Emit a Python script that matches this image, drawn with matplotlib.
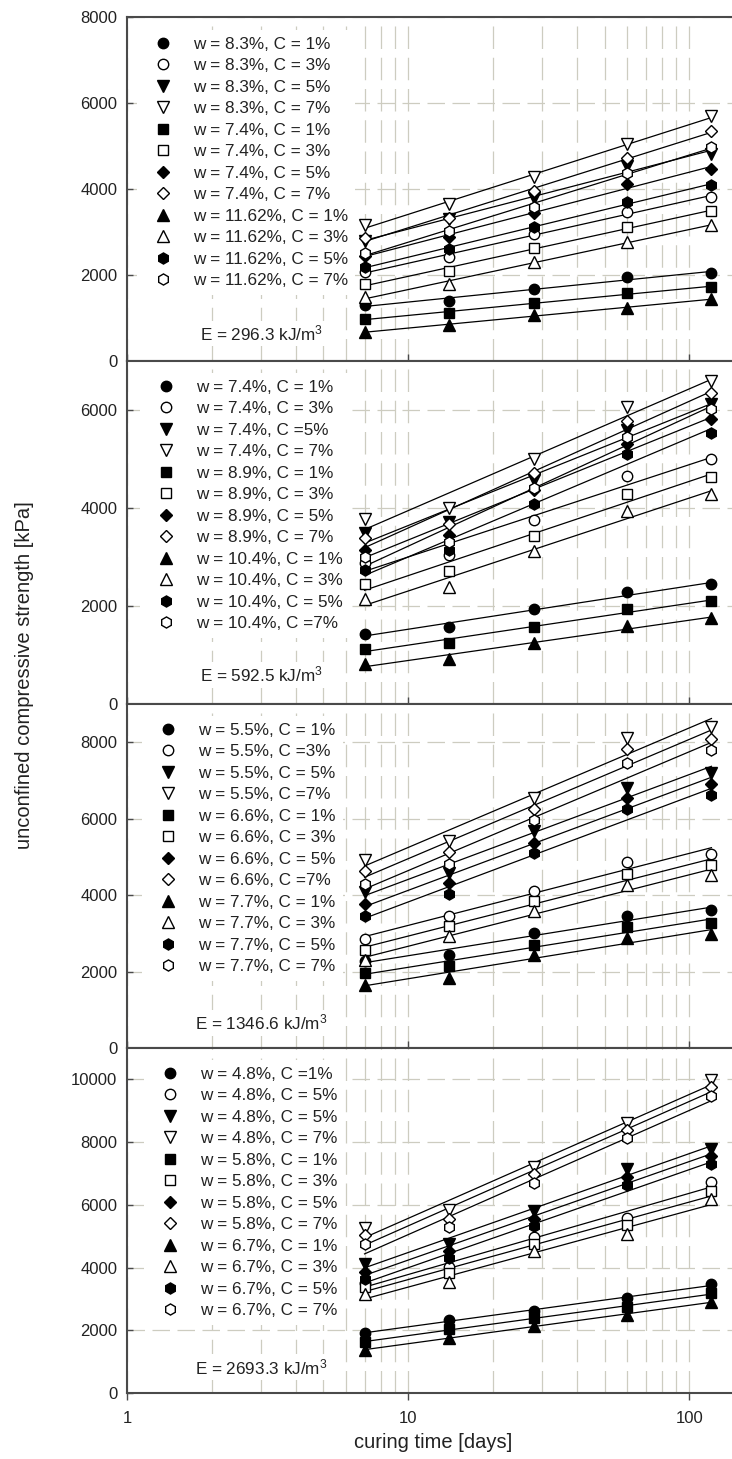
import numpy as np
import matplotlib.pyplot as plt
from matplotlib.ticker import FixedLocator, NullFormatter

plt.rcParams['font.family'] = ['Liberation Sans', 'DejaVu Sans']
plt.rcParams['mathtext.fontset'] = 'custom'
plt.rcParams['mathtext.rm'] = 'Liberation Sans'
plt.rcParams['mathtext.default'] = 'regular'

# curing times (days)
days = [7, 14, 28, 60, 120]

# E = 296.3 kJ/m3
labels_e1 = ["w = 8.3%, C = 1%", "w = 8.3%, C = 3%", "w = 8.3%, C = 5%", "w = 8.3%, C = 7%",
             "w = 7.4%, C = 1%", "w = 7.4%, C = 3%", "w = 7.4%, C = 5%", "w = 7.4%, C = 7%",
             "w = 11.62%, C = 1%", "w = 11.62%, C = 3%", "w = 11.62%, C = 5%", "w = 11.62%, C = 7%"]
ucs_e1 = [[1302, 1395, 1674, 1953, 2047],
          [2070, 2419, 2953, 3465, 3814],
          [2800, 3300, 3791, 4535, 4814],
          [3163, 3651, 4279, 5047, 5698],
          [977, 1116, 1349, 1581, 1721],
          [1790, 2093, 2628, 3116, 3488],
          [2450, 2884, 3442, 4116, 4465],
          [2860, 3326, 3953, 4721, 5349],
          [674, 837, 1070, 1233, 1442],
          [1488, 1790, 2302, 2767, 3163],
          [2186, 2605, 3116, 3698, 4093],
          [2512, 3023, 3581, 4372, 4977]]

# E = 592.5 kJ/m3
labels_e2 = ["w = 7.4%, C = 1%", "w = 7.4%, C = 3%", "w = 7.4%, C =5%", "w = 7.4%, C = 7%",
             "w = 8.9%, C = 1%", "w = 8.9%, C = 3%", "w = 8.9%, C = 5%", "w = 8.9%, C = 7%",
             "w = 10.4%, C = 1%", "w = 10.4%, C = 3%", "w = 10.4%, C = 5%", "w = 10.4%, C =7%"]
ucs_e2 = [[1431, 1568, 1936, 2276, 2447],
          [2877, 3047, 3763, 4648, 4990],
          [3490, 3715, 4581, 5600, 6115],
          [3777, 4001, 5004, 6060, 6591],
          [1118, 1240, 1581, 1936, 2092],
          [2454, 2706, 3422, 4294, 4636],
          [3135, 3456, 4362, 5300, 5808],
          [3388, 3674, 4717, 5773, 6340],
          [818, 920, 1240, 1595, 1752],
          [2140, 2386, 3115, 3947, 4294],
          [2740, 3135, 4090, 5092, 5522],
          [3000, 3299, 4410, 5446, 6026]]

# E = 1346.6 kJ/m3
labels_e3 = ["w = 5.5%, C = 1%", "w = 5.5%, C =3%", "w = 5.5%, C = 5%", "w = 5.5%, C =7%",
             "w = 6.6%, C = 1%", "w = 6.6%, C = 3%", "w = 6.6%, C = 5%", "w = 6.6%, C =7%",
             "w = 7.7%, C = 1%", "w = 7.7%, C = 3%", "w = 7.7%, C = 5%", "w = 7.7%, C = 7%"]
ucs_e3 = [[2280, 2439, 3008, 3445, 3602],
          [2859, 3462, 4100, 4860, 5080],
          [4074, 4582, 5674, 6812, 7205],
          [4931, 5412, 6531, 8123, 8411],
          [1959, 2151, 2702, 3165, 3270],
          [2571, 3182, 3838, 4564, 4783],
          [3777, 4320, 5369, 6531, 6917],
          [4625, 5124, 6243, 7835, 8096],
          [1652, 1844, 2439, 2876, 2982],
          [2290, 2938, 3575, 4276, 4520],
          [3445, 4039, 5089, 6243, 6610],
          [4302, 4826, 5954, 7468, 7790]]

# E = 2693.3 kJ/m3
labels_e4 = ["w = 4.8%, C =1%", "w = 4.8%, C = 5%", "w = 4.8%, C = 5%", "w = 4.8%, C = 7%",
             "w = 5.8%, C = 1%", "w = 5.8%, C = 3%", "w = 5.8%, C = 5%", "w = 5.8%, C = 7%",
             "w = 6.7%, C = 1%", "w = 6.7%, C = 3%", "w = 6.7%, C = 5%", "w = 6.7%, C = 7%"]
ucs_e4 = [[1921, 2325, 2622, 3016, 3472],
          [3500, 4023, 4980, 5595, 6730],
          [4109, 4766, 5806, 7156, 7794],
          [5265, 5829, 7208, 8610, 9991],
          [1634, 2029, 2378, 2749, 3175],
          [3380, 3812, 4766, 5350, 6443],
          [3865, 4532, 5562, 6890, 7549],
          [5032, 5562, 6996, 8398, 9756],
          [1370, 1762, 2144, 2484, 2908],
          [3153, 3545, 4532, 5085, 6170],
          [3620, 4289, 5319, 6625, 7294],
          [4746, 5297, 6698, 8132, 9459]]

energy_labels = ["E = 296.3 kJ/m$^3$", "E = 592.5 kJ/m$^3$",
                 "E = 1346.6 kJ/m$^3$", "E = 2693.3 kJ/m$^3$"]
energy_text_y = [640, 593, 656, 828]
y_max = [8000, 7000, 9000, 11000]
y_top_tick = [8000, 6000, 8000, 10000]

panels = [(labels_e1, ucs_e1), (labels_e2, ucs_e2), (labels_e3, ucs_e3), (labels_e4, ucs_e4)]

markers = ['o', 'o', 'v', 'v', 's', 's', 'D', 'D', '^', '^', 'h', 'h']
msizes = {'o': 7.5, 'v': 8, '^': 8, 's': 7, 'D': 6.5, 'h': 8}

W, H = 732, 1459
fig = plt.figure(figsize=(W / 100, H / 100), dpi=100)

# pixel rows of each panel (top, bottom)
rows_px = [(17, 361), (361, 704), (704, 1048), (1048, 1393)]
legend_left_px = [137, 140, 142, 144]
legend_drop_px = [13, 12, 12, 12]
left_px = 127

grid_color = '#cdccc0'
spine_color = '#4a4a4a'
minor_pos = [2, 3, 4, 5, 6, 7, 8, 9, 20, 30, 40, 50, 60, 70, 80, 90]
logd = np.log10(days)

for i, (labels, ucs) in enumerate(panels):
    top, bot = rows_px[i]
    ax = fig.add_axes([left_px / W, 1 - bot / H, 1 - left_px / W, (bot - top) / H])
    ax.set_xscale('log')
    ax.set_xlim(1, 142)
    ax.set_ylim(0, y_max[i])
    ax.set_yticks(np.arange(0, y_top_tick[i] + 1, 2000))
    ax.xaxis.set_major_locator(FixedLocator([1, 10, 100]))
    ax.xaxis.set_minor_locator(FixedLocator(minor_pos))
    ax.xaxis.set_minor_formatter(NullFormatter())
    ax.set_axisbelow(True)
    ax.xaxis.grid(True, which='both', color=grid_color, lw=0.9, linestyle=(0, (18, 7)))
    ax.yaxis.grid(True, which='major', color=grid_color, lw=0.9, linestyle=(0, (14, 6)))

    for side in ['left', 'top', 'bottom']:
        ax.spines[side].set_color(spine_color)
        ax.spines[side].set_linewidth(1.5)
    ax.spines['right'].set_visible(False)

    ax.tick_params(axis='y', direction='in', length=4, width=1, pad=7,
                   labelsize=12, colors=spine_color, labelcolor='#222222')
    ax.tick_params(axis='x', which='minor', length=0)
    if i < 3:
        ax.tick_params(axis='x', which='major', direction='in', length=5, width=1,
                       colors=spine_color, labelbottom=False)
    else:
        ax.tick_params(axis='x', which='major', direction='out', length=5, width=1,
                       pad=8, labelsize=12, colors=spine_color, labelcolor='#222222')
        ax.set_xticklabels(['1', '10', '100'])

    handles = []
    for j, vals in enumerate(ucs):
        coef = np.polyfit(logd, vals, 1)
        xs = np.array([days[0], days[-1]])
        ax.plot(xs, np.polyval(coef, np.log10(xs)), color='black', lw=0.9, zorder=2)
        m = markers[j]
        h, = ax.plot(days, vals, linestyle='none', marker=m, ms=msizes[m],
                     mec='black', mew=1.0, mfc='black' if j % 2 == 0 else 'white',
                     zorder=3, label=labels[j])
        handles.append(h)

    anchor_x = (legend_left_px[i] - left_px) / (W - left_px)
    anchor_y = 1 - legend_drop_px[i] / (bot - top)
    leg = ax.legend(handles=handles, loc='upper left', bbox_to_anchor=(anchor_x, anchor_y),
                    borderaxespad=0, frameon=True, fancybox=False, edgecolor='none',
                    facecolor='white', framealpha=1, fontsize=12.3, handlelength=2.3,
                    handletextpad=0.6, labelspacing=0.38, borderpad=0.4, numpoints=1)
    for t in leg.get_texts():
        t.set_color('#222222')

    ax.text(3.0, energy_text_y[i], energy_labels[i], ha='center', va='center',
            fontsize=12.3, color='#222222',
            bbox=dict(fc='white', ec='none', pad=2), zorder=4)

fig.text(25 / W, 1 - 675 / H, 'unconfined compressive strength [kPa]', rotation=90,
         ha='center', va='center', fontsize=14.5, color='#222222')
fig.text(433 / W, 1 - 1443 / H, 'curing time [days]', ha='center', va='center',
         fontsize=14.5, color='#222222')

fig.savefig('out.png', dpi=100)
